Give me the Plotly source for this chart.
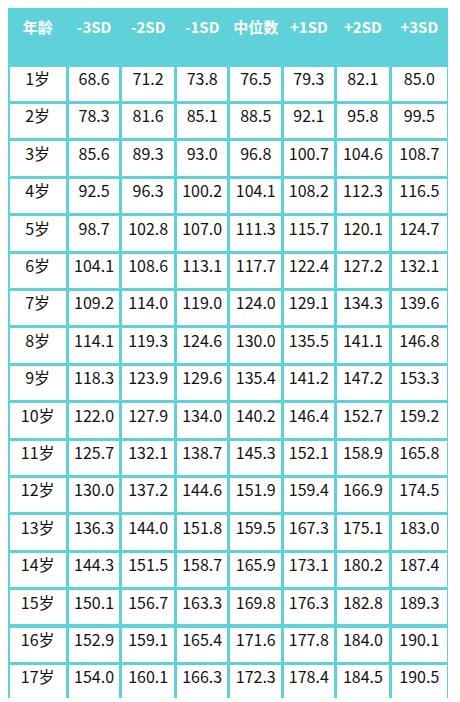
import plotly.graph_objects as go

headers = ["年龄", "-3SD", "-2SD", "-1SD", "中位数", "+1SD", "+2SD", "+3SD"]
ages = [f"{i}岁" for i in range(1, 18)]
sd_m3 = [68.6, 78.3, 85.6, 92.5, 98.7, 104.1, 109.2, 114.1, 118.3, 122.0, 125.7, 130.0, 136.3, 144.3, 150.1, 152.9, 154.0]
sd_m2 = [71.2, 81.6, 89.3, 96.3, 102.8, 108.6, 114.0, 119.3, 123.9, 127.9, 132.1, 137.2, 144.0, 151.5, 156.7, 159.1, 160.1]
sd_m1 = [73.8, 85.1, 93.0, 100.2, 107.0, 113.1, 119.0, 124.6, 129.6, 134.0, 138.7, 144.6, 151.8, 158.7, 163.3, 165.4, 166.3]
median = [76.5, 88.5, 96.8, 104.1, 111.3, 117.7, 124.0, 130.0, 135.4, 140.2, 145.3, 151.9, 159.5, 165.9, 169.8, 171.6, 172.3]
sd_p1 = [79.3, 92.1, 100.7, 108.2, 115.7, 122.4, 129.1, 135.5, 141.2, 146.4, 152.1, 159.4, 167.3, 173.1, 176.3, 177.8, 178.4]
sd_p2 = [82.1, 95.8, 104.6, 112.3, 120.1, 127.2, 134.3, 141.1, 147.2, 152.7, 158.9, 166.9, 175.1, 180.2, 182.8, 184.0, 184.5]
sd_p3 = [85.0, 99.5, 108.7, 116.5, 124.7, 132.1, 139.6, 146.8, 153.3, 159.2, 165.8, 174.5, 183.0, 187.4, 189.3, 190.1, 190.5]

teal = "#5fd1d9"
cols = [ages] + [[f"{v:.1f}" for v in s] for s in (sd_m3, sd_m2, sd_m1, median, sd_p1, sd_p2, sd_p3)]

fig = go.Figure(go.Table(
    columnwidth=[62, 56, 57, 56, 56, 55, 58, 60],
    header=dict(values=[f"<b>{h}</b>" for h in headers], fill_color=teal,
                line=dict(color=teal, width=3), align="center", height=57,
                font=dict(color="white", size=15, family="Noto Sans CJK SC")),
    cells=dict(values=cols, fill_color="white", line=dict(color=teal, width=3),
               align="center", height=37.4,
               font=dict(color="#111111", size=16, family="Noto Sans CJK SC")),
    domain=dict(x=[0, 1], y=[0, 1]),
))
fig.update_layout(width=440, height=690, margin=dict(l=0, r=0, t=0, b=0),
                  paper_bgcolor=teal)
fig.write_html("out.html")
